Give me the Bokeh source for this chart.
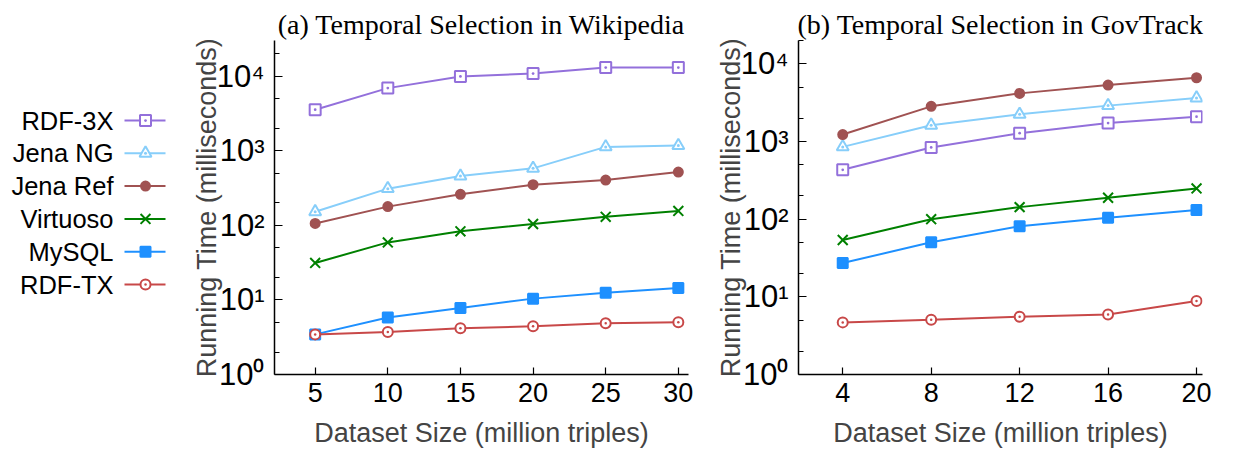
from bokeh.plotting import figure
from bokeh.models import FixedTicker, Range1d, Title, ColumnDataSource
from bokeh.layouts import row
from bokeh.embed import file_html
from bokeh.resources import INLINE
from bokeh.core.properties import value

systems = ["RDF-3X", "Jena NG", "Jena Ref", "Virtuoso", "MySQL", "RDF-TX"]
colors = ["#9370DB", "#87CEFA", "#A05252", "#008000", "#1E90FF", "#C84848"]
markers = ["square_dot", "triangle_dot", "circle", "x", "square", "circle_dot"]
filled = [False, False, True, False, True, False]
marker_sizes = [11, 12, 9, 14, 10, 10]

wiki_sizes = [5, 10, 15, 20, 25, 30]
wiki_rdf3x = [3540, 6900, 9900, 10800, 13000, 13000]
wiki_jena_ng = [152, 310, 457, 580, 1125, 1170]
wiki_jena_ref = [106, 178, 260, 350, 404, 517]
wiki_virtuoso = [31.3, 59, 83, 104, 130, 156]
wiki_mysql = [3.45, 5.8, 7.8, 10.4, 12.5, 14.4]
wiki_rdftx = [3.45, 3.72, 4.17, 4.43, 4.86, 5.01]

gov_sizes = [4, 8, 12, 16, 20]
gov_rdf3x = [432, 838, 1280, 1730, 2090]
gov_jena_ng = [853, 1620, 2240, 2900, 3630]
gov_jena_ref = [1230, 2840, 4170, 5330, 6630]
gov_virtuoso = [54, 100, 143, 189, 249]
gov_mysql = [27.2, 50.5, 81, 104, 131]
gov_rdftx = [4.69, 5.08, 5.55, 5.94, 8.83]

y_ticks = [1, 10, 100, 1000, 10000]
y_tick_labels = ["10\u2070", "10\u00b9", "10\u00b2", "10\u00b3", "10\u2074"]
y_minor_ticks = [2, 5, 20, 50, 200, 500, 2000, 5000, 20000]

SANS = "Liberation Sans"
SERIF = "Liberation Serif"
TOP, FRAME_H, BOTTOM = 40, 334, 76


def draw_series(p, x, y, i):
    c = colors[i]
    p.line(x, y, line_color=c, line_width=2)
    fill = c if filled[i] else "white"
    p.scatter(x, y, marker=markers[i], size=marker_sizes[i], line_color=c,
              fill_color=fill, line_width=2)


def make_panel(title, xs, series, xr, yr, xticks, frame_w, border_left, border_right):
    p = figure(frame_width=frame_w, frame_height=FRAME_H,
               x_range=Range1d(*xr), y_range=Range1d(*yr), y_axis_type="log",
               output_backend="svg", toolbar_location=None,
               min_border_left=border_left, min_border_right=border_right,
               min_border_top=TOP, min_border_bottom=BOTTOM)
    p.title = Title(text=title, align="center", text_font=SERIF,
                    text_font_size="28px", text_font_style="normal",
                    text_color="black", standoff=2)
    p.outline_line_color = None
    p.xgrid.grid_line_color = None
    p.ygrid.grid_line_color = None
    for i, ys in enumerate(series):
        draw_series(p, xs, ys, i)
    xa = p.xaxis[0]
    xa.ticker = FixedTicker(ticks=xticks)
    xa.major_tick_in = 7
    xa.major_tick_out = 0
    xa.minor_tick_line_color = None
    xa.axis_line_width = 1.5
    xa.major_tick_line_width = 1.2
    xa.major_label_text_font = SANS
    xa.major_label_text_font_size = "27px"
    xa.major_label_text_color = "black"
    xa.major_label_standoff = 8
    xa.axis_label = "Dataset Size (million triples)"
    xa.axis_label_text_font = SANS
    xa.axis_label_text_font_size = "27px"
    xa.axis_label_text_font_style = "normal"
    xa.axis_label_standoff = 13
    ya = p.yaxis[0]
    ya.ticker = FixedTicker(ticks=y_ticks, minor_ticks=y_minor_ticks)
    ya.major_label_overrides = {t: l for t, l in zip(y_ticks, y_tick_labels)}
    ya.major_tick_in = 8
    ya.major_tick_out = 0
    ya.minor_tick_in = 5
    ya.minor_tick_out = 0
    ya.axis_line_width = 1.5
    ya.major_tick_line_width = 1.2
    ya.minor_tick_line_width = 1.2
    ya.major_label_text_font = SANS
    ya.major_label_text_font_size = "31px"
    ya.major_label_text_color = "black"
    ya.major_label_standoff = 10
    ya.axis_label = "Running Time (milliseconds)"
    ya.axis_label_text_font = SANS
    ya.axis_label_text_font_size = "27px"
    ya.axis_label_text_font_style = "normal"
    ya.axis_label_standoff = -8
    return p


pa = make_panel("(a) Temporal Selection in Wikipedia", wiki_sizes,
                [wiki_rdf3x, wiki_jena_ng, wiki_jena_ref, wiki_virtuoso, wiki_mysql, wiki_rdftx],
                (2.2, 30.7), (1, 30000), wiki_sizes, 414, 94, 12)
pb = make_panel("(b) Temporal Selection in GovTrack", gov_sizes,
                [gov_rdf3x, gov_jena_ng, gov_jena_ref, gov_virtuoso, gov_mysql, gov_rdftx],
                (2.0, 20.27), (1, 20000), gov_sizes, 404, 98, 42)

# legend panel (text left of the sample line, as in the reference)
ROW0, ROW_STEP = 120, 32.8
leg = figure(frame_width=180, frame_height=FRAME_H, x_range=Range1d(0, 180),
             y_range=Range1d((TOP + FRAME_H - ROW0) / ROW_STEP, (TOP - ROW0) / ROW_STEP),
             output_backend="svg", toolbar_location=None,
             min_border_left=0, min_border_right=0,
             min_border_top=TOP, min_border_bottom=BOTTOM)
leg.axis.visible = False
leg.grid.visible = False
leg.outline_line_color = None
idx = list(range(len(systems)))
src = ColumnDataSource(dict(name=systems, i=idx))
leg.text(x=113, y="i", text="name", source=src, text_align="right",
         text_baseline="middle", text_font=value(SANS), text_font_size="25.5px",
         text_color="black")
for i in idx:
    leg.segment(x0=124, y0=i, x1=165, y1=i, line_color=colors[i], line_width=2)
    fill = colors[i] if filled[i] else "white"
    leg.scatter(x=[145], y=[i], marker=markers[i], size=marker_sizes[i],
                line_color=colors[i], fill_color=fill, line_width=2)

layout = row(leg, pa, pb, spacing=0)
open("out.html", "w").write(file_html(layout, INLINE))
